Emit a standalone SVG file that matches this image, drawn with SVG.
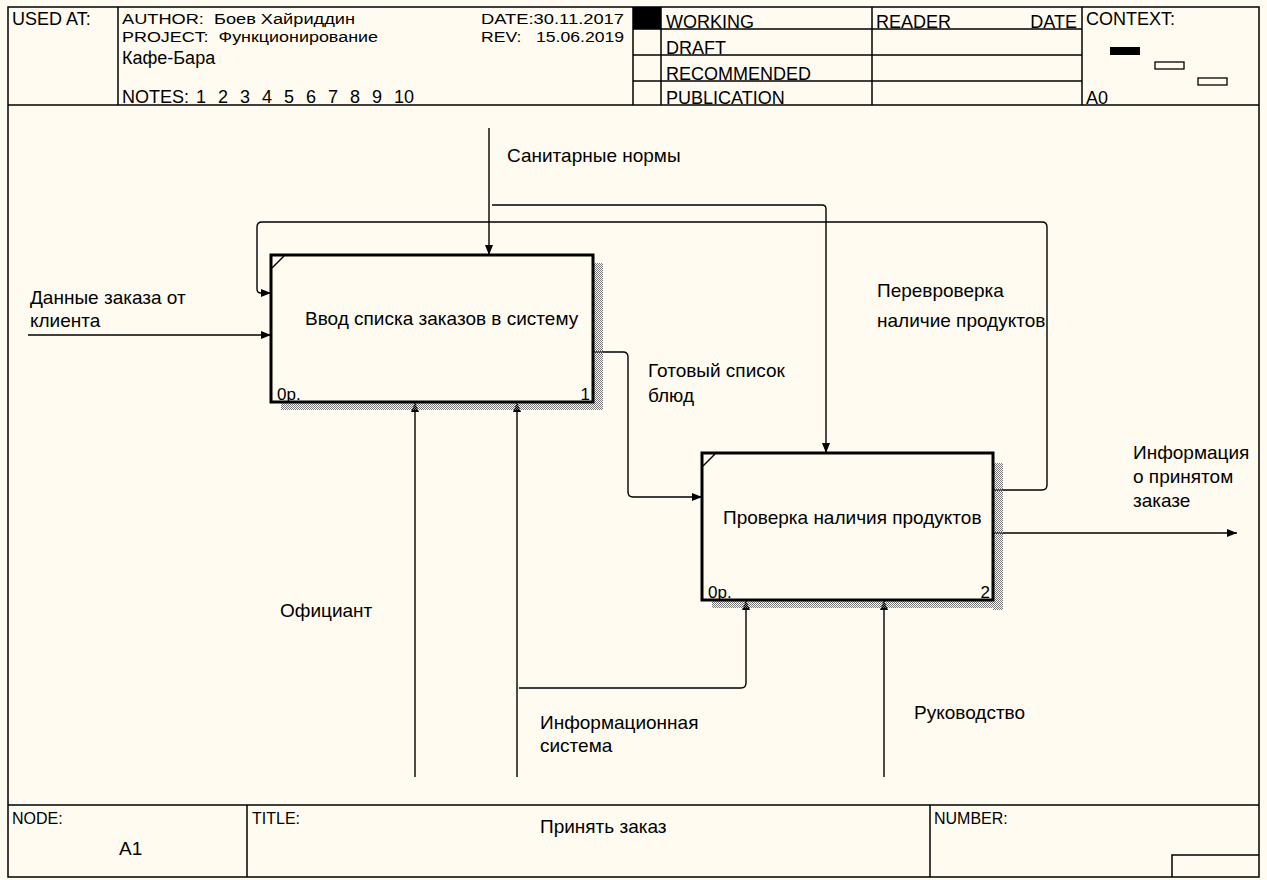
<svg xmlns="http://www.w3.org/2000/svg" width="1267" height="880" viewBox="0 0 1267 880">
<defs>
<style>
text{font-family:"Liberation Sans",Arial,sans-serif;font-size:19px;fill:#000}
.h{font-size:18px;white-space:pre}
.t{font-size:15.5px;white-space:pre}
.s{font-size:16px}
.n{font-size:17px}
.frame{fill:none;stroke:#000;stroke-width:1.5}
.box{stroke:#000;stroke-width:3}
.ln{fill:none;stroke:#000;stroke-width:1.4}
.sh{fill:url(#hatch)}
</style>
<pattern id="hatch" width="2" height="2" patternUnits="userSpaceOnUse">
<rect x="0" y="0" width="1" height="1" fill="#777"/>
<rect x="1" y="1" width="1" height="1" fill="#777"/>
</pattern>
<marker id="ar" markerWidth="10" markerHeight="8" refX="10" refY="4" orient="auto" markerUnits="userSpaceOnUse">
<path d="M0,0 L10,4 L0,8 z" fill="#000"/>
</marker>
</defs>
<rect x="0" y="0" width="1267" height="880" fill="#fffbf0"/>

<g id="header">
<rect class="frame" x="8" y="7" width="1251" height="870"/>
<line class="frame" x1="8" y1="105" x2="1259" y2="105"/>
<line class="frame" x1="118" y1="7" x2="118" y2="105"/>
<line class="frame" x1="633" y1="7" x2="633" y2="105"/>
<line class="frame" x1="661" y1="7" x2="661" y2="105"/>
<line class="frame" x1="872" y1="7" x2="872" y2="105"/>
<line class="frame" x1="1082" y1="7" x2="1082" y2="105"/>
<line class="frame" x1="633" y1="29" x2="1082" y2="29"/>
<line class="frame" x1="633" y1="55" x2="1082" y2="55"/>
<line class="frame" x1="633" y1="81" x2="1082" y2="81"/>
<rect x="633" y="7" width="28" height="22" fill="#000"/>
<text class="h" x="12" y="25">USED AT:</text>
<text class="t" x="122" y="24" textLength="233" lengthAdjust="spacingAndGlyphs">AUTHOR:  Боев Хайриддин</text>
<text class="t" x="122" y="42" textLength="256" lengthAdjust="spacingAndGlyphs">PROJECT:  Функционирование</text>
<text class="h" x="122" y="64">Кафе-Бара</text>
<text class="h" x="122" y="103">NOTES:<tspan x="196">1</tspan><tspan x="218">2</tspan><tspan x="240">3</tspan><tspan x="262">4</tspan><tspan x="284">5</tspan><tspan x="306">6</tspan><tspan x="328">7</tspan><tspan x="350">8</tspan><tspan x="372">9</tspan><tspan x="394">10</tspan></text>
<text class="t" x="481" y="24" textLength="143" lengthAdjust="spacingAndGlyphs">DATE:30.11.2017</text>
<text class="t" x="481" y="42" textLength="143" lengthAdjust="spacingAndGlyphs">REV:   15.06.2019</text>
<text class="h" x="666" y="28">WORKING</text>
<text class="h" x="666" y="54">DRAFT</text>
<text class="h" x="666" y="80">RECOMMENDED</text>
<text class="h" x="666" y="104">PUBLICATION</text>
<text class="h" x="876" y="28">READER</text>
<text class="h" x="1077" y="28" text-anchor="end">DATE</text>
<text class="h" x="1086" y="25">CONTEXT:</text>
<rect x="1110" y="47" width="30" height="8" fill="#000"/>
<rect x="1155" y="62" width="29" height="7" fill="none" stroke="#000" stroke-width="1.3"/>
<rect x="1198" y="78" width="29" height="7" fill="none" stroke="#000" stroke-width="1.3"/>
<text class="h" x="1086" y="104">A0</text>
</g>

<g id="footer">
<line class="frame" x1="8" y1="805" x2="1259" y2="805"/>
<line class="frame" x1="247" y1="805" x2="247" y2="877"/>
<line class="frame" x1="930" y1="805" x2="930" y2="877"/>
<polyline class="frame" points="1172,877 1172,855 1259,855"/>
<text class="s" x="12" y="824">NODE:</text>
<text x="119" y="855">A1</text>
<text class="s" x="252" y="824">TITLE:</text>
<text x="540" y="833">Принять заказ</text>
<text class="s" x="934" y="824">NUMBER:</text>
</g>

<g id="connectors">
<line class="ln" x1="28" y1="335" x2="271" y2="335" marker-end="url(#ar)"/>
<line class="ln" x1="489" y1="128" x2="489" y2="255" marker-end="url(#ar)"/>
<path class="ln" d="M492,205 L822,205 Q826,205 826,209 L826,453" marker-end="url(#ar)"/>
<path class="ln" d="M993,490 L1042,490 Q1047,490 1047,485 L1047,227 Q1047,222 1042,222 L262,222 Q257,222 257,227 L257,289 Q257,293 261,293 L271,293" marker-end="url(#ar)"/>
<path class="ln" d="M593,352 L623,352 Q628,352 628,357 L628,492 Q628,497 633,497 L702,497" marker-end="url(#ar)"/>
<line class="ln" x1="993" y1="533" x2="1237" y2="533" marker-end="url(#ar)"/>
<line class="ln" x1="415" y1="777" x2="415" y2="402" marker-end="url(#ar)"/>
<line class="ln" x1="517" y1="777" x2="517" y2="402" marker-end="url(#ar)"/>
<path class="ln" d="M519,688 L741,688 Q746,688 746,683 L746,600" marker-end="url(#ar)"/>
<line class="ln" x1="884" y1="777" x2="884" y2="600" marker-end="url(#ar)"/>
</g>

<g id="labels">
<text x="30" y="304">Данные заказа от</text>
<text x="30" y="327">клиента</text>
<text x="507" y="162">Санитарные нормы</text>
<text x="877" y="297">Перевроверка</text>
<text x="877" y="327">наличие продуктов</text>
<text x="648" y="377">Готовый список</text>
<text x="648" y="402">блюд</text>
<text x="1133" y="459">Информация</text>
<text x="1133" y="483">о принятом</text>
<text x="1133" y="507">заказе</text>
<text x="280" y="617">Официант</text>
<text x="540" y="729">Информационная</text>
<text x="540" y="752">система</text>
<text x="914" y="719">Руководство</text>
</g>

<g id="node1">
<rect class="sh" x="593" y="263" width="10" height="147"/>
<rect class="sh" x="281" y="402" width="322" height="8"/>
<rect class="box" x="271" y="255" width="322" height="147" fill="#fffbf0"/>
<line class="ln" x1="272" y1="268" x2="284" y2="256" stroke-width="2"/>
<text x="305" y="325">Ввод списка заказов в систему</text>
<text class="n" x="277" y="400">0р.</text>
<text class="n" x="590" y="400" text-anchor="end">1</text>
</g>

<g id="node2">
<rect class="sh" x="993" y="463" width="10" height="147"/>
<rect class="sh" x="712" y="600" width="291" height="8"/>
<rect class="box" x="702" y="453" width="291" height="147" fill="#fffbf0"/>
<line class="ln" x1="703" y1="466" x2="715" y2="454" stroke-width="2"/>
<text x="723" y="524">Проверка наличия продуктов</text>
<text class="n" x="708" y="598">0р.</text>
<text class="n" x="990" y="598" text-anchor="end">2</text>
</g>
</svg>
